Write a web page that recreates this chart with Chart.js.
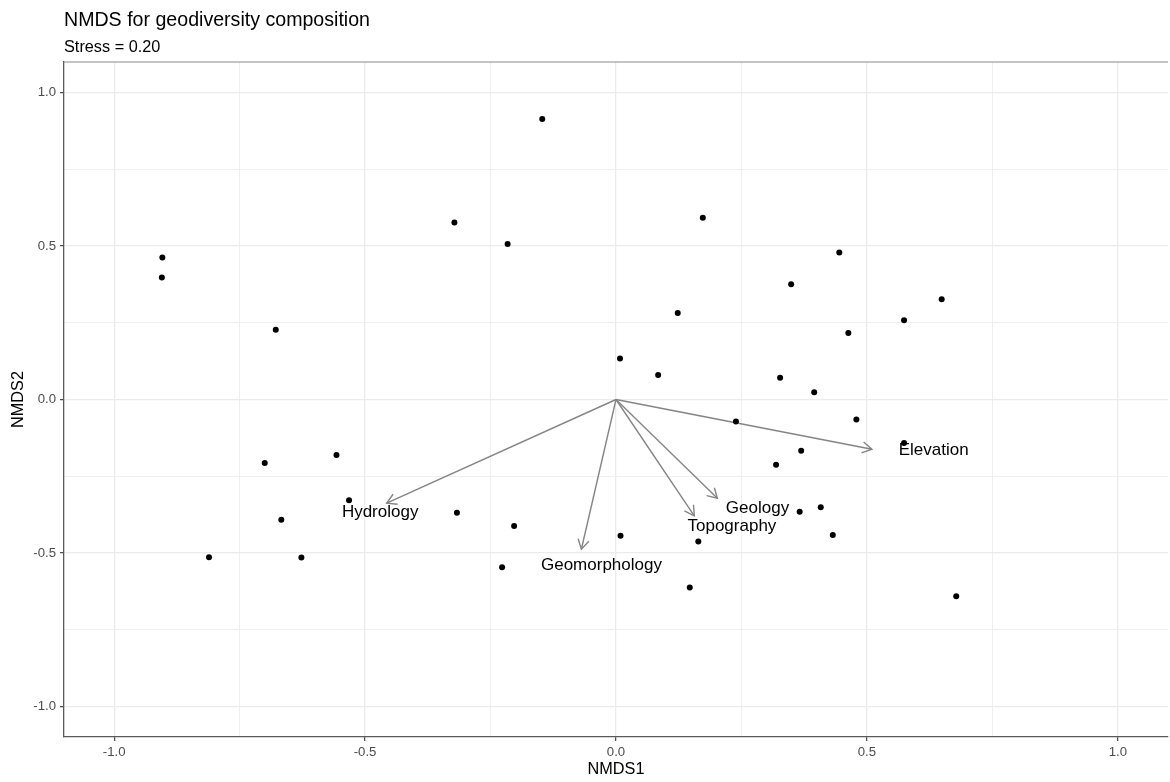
<!DOCTYPE html>
<html>
<head>
<meta charset="utf-8">
<title>NMDS for geodiversity composition</title>
<script src="https://cdn.jsdelivr.net/npm/chart.js@4/dist/chart.umd.min.js"></script>
<style>
  html, body { margin: 0; padding: 0; background: #ffffff; overflow: hidden; }
  canvas { display: block; }
</style>
</head>
<body>
<canvas id="nmds" width="1172" height="782"></canvas>
<script>
// Site scores on the first two NMDS axes
const siteX = [-0.904, -0.905, -0.678, -0.700, -0.557, -0.532, -0.667, -0.811, -0.627,
               -0.147, -0.322, -0.216, 0.173, 0.123, 0.008, 0.084,
               -0.317, -0.203, 0.009, 0.164, -0.227, 0.147,
               0.445, 0.349, 0.649, 0.574, 0.463, 0.327, 0.395, 0.239, 0.479,
               0.574, 0.369, 0.319, 0.408, 0.366, 0.432, 0.678];
const siteY = [0.463, 0.398, 0.227, -0.207, -0.181, -0.328, -0.392, -0.514, -0.515,
               0.914, 0.577, 0.507, 0.592, 0.282, 0.134, 0.080,
               -0.369, -0.412, -0.444, -0.463, -0.547, -0.613,
               0.479, 0.376, 0.327, 0.258, 0.217, 0.071, 0.024, -0.072, -0.065,
               -0.142, -0.167, -0.213, -0.351, -0.366, -0.442, -0.641];

// Fitted environmental vectors (arrow tips) and their label positions
const vectorNames = ['Hydrology', 'Geomorphology', 'Topography', 'Geology', 'Elevation'];
const vectorX = [-0.457, -0.069, 0.156, 0.202, 0.510];
const vectorY = [-0.338, -0.488, -0.379, -0.322, -0.162];
const labelX = [-0.470, -0.029, 0.231, 0.282, 0.633];
const labelY = [-0.369, -0.541, -0.414, -0.354, -0.167];

// Axis ticks
const majorTicks = [-1, -0.5, 0, 0.5, 1];
const minorTicks = [-0.75, -0.25, 0.25, 0.75];
const axisMin = -1.1;
const axisMax = 1.1;

const titleText = 'NMDS for geodiversity composition';
const subtitleText = 'Stress = 0.20';
const xTitle = 'NMDS1';
const yTitle = 'NMDS2';

const FONT = '"Liberation Sans", Arial, Helvetica, sans-serif';
const allTicks = majorTicks.concat(minorTicks).sort((a, b) => a - b);
const isMajor = v => majorTicks.some(m => Math.abs(m - v) < 1e-9);

function axisOptions(title, isX) {
  return {
    type: 'linear',
    position: isX ? 'bottom' : 'left',
    min: axisMin,
    max: axisMax,
    bounds: 'data',
    afterBuildTicks: scale => { scale.ticks = allTicks.map(v => ({ value: v })); },
    afterFit: scale => {
      if (isX) { scale.height = 45; } else { scale.width = 64; }
    },
    grid: {
      drawTicks: true,
      tickLength: 4,
      color: c => (c.tick && isMajor(c.tick.value)) ? '#EBEBEB' : '#EFEFEF',
      lineWidth: c => (c.tick && isMajor(c.tick.value)) ? 1.3 : 1,
      tickColor: c => (c.tick && isMajor(c.tick.value)) ? '#444444' : 'rgba(0,0,0,0)',
      tickWidth: 1.2
    },
    border: { display: true, color: '#5a5a5a', width: 1.3 },
    ticks: {
      autoSkip: false,
      maxRotation: 0,
      padding: isX ? 3 : 4,
      color: '#4D4D4D',
      font: { family: FONT, size: 13.2 },
      callback: v => isMajor(v) ? v.toFixed(1) : ''
    },
    title: {
      display: true,
      text: title,
      color: '#000000',
      font: { family: FONT, size: 16.3 },
      padding: isX ? { top: 0, bottom: 3 } : { top: 9, bottom: 0 }
    }
  };
}

// Open arrowheads at the tip of every vector line
const arrowHeads = {
  id: 'arrowHeads',
  afterDatasetsDraw(chart) {
    const ctx = chart.ctx;
    chart.data.datasets.forEach((ds, i) => {
      if (!ds.isVector) return;
      const pts = chart.getDatasetMeta(i).data;
      const a = pts[0], b = pts[1];
      const ang = Math.atan2(b.y - a.y, b.x - a.x);
      const len = 11, spread = Math.PI / 6;
      ctx.save();
      ctx.strokeStyle = ds.borderColor;
      ctx.lineWidth = ds.borderWidth;
      ctx.lineJoin = 'miter';
      ctx.beginPath();
      ctx.moveTo(b.x - len * Math.cos(ang - spread), b.y - len * Math.sin(ang - spread));
      ctx.lineTo(b.x, b.y);
      ctx.lineTo(b.x - len * Math.cos(ang + spread), b.y - len * Math.sin(ang + spread));
      ctx.stroke();
      ctx.restore();
    });
  }
};

// Vector names placed through the chart's own scales
const vectorLabels = {
  id: 'vectorLabels',
  afterDatasetsDraw(chart) {
    const ctx = chart.ctx;
    const xs = chart.scales.x, ys = chart.scales.y;
    ctx.save();
    ctx.fillStyle = '#000000';
    ctx.font = '17px ' + FONT;
    ctx.textAlign = 'center';
    ctx.textBaseline = 'middle';
    vectorNames.forEach((name, i) => {
      ctx.fillText(name, xs.getPixelForValue(labelX[i]), ys.getPixelForValue(labelY[i]));
    });
    ctx.restore();
  }
};

// Panel top edge plus plot title and subtitle
const frameAndTitles = {
  id: 'frameAndTitles',
  afterDraw(chart) {
    const ctx = chart.ctx;
    const area = chart.chartArea;
    ctx.save();
    ctx.strokeStyle = '#8a8a8a';
    ctx.lineWidth = 1.2;
    ctx.beginPath();
    ctx.moveTo(area.left, area.top);
    ctx.lineTo(area.right, area.top);
    ctx.stroke();

    ctx.fillStyle = '#000000';
    ctx.textAlign = 'left';
    ctx.textBaseline = 'alphabetic';
    ctx.font = '19.6px ' + FONT;
    ctx.fillText(titleText, area.left, 26);
    ctx.font = '16.3px ' + FONT;
    ctx.fillText(subtitleText, area.left, 51.5);
    ctx.restore();
  }
};

const vectorDatasets = vectorNames.map((name, i) => ({
  label: name,
  isVector: true,
  showLine: true,
  data: [{ x: 0, y: 0 }, { x: vectorX[i], y: vectorY[i] }],
  borderColor: '#858585',
  borderWidth: 1.4,
  pointRadius: 0,
  fill: false,
  order: 1
}));

new Chart(document.getElementById('nmds'), {
  type: 'scatter',
  data: {
    datasets: [
      {
        label: 'Sites',
        data: siteX.map((x, i) => ({ x: x, y: siteY[i] })),
        backgroundColor: '#000000',
        borderColor: '#000000',
        borderWidth: 0,
        pointRadius: 3,
        order: 0
      }
    ].concat(vectorDatasets)
  },
  options: {
    responsive: false,
    devicePixelRatio: 1,
    animation: false,
    events: [],
    layout: { padding: { top: 62, left: 0, right: 0, bottom: 0 } },
    plugins: {
      legend: { display: false },
      title: { display: false },
      tooltip: { enabled: false }
    },
    scales: {
      x: axisOptions(xTitle, true),
      y: axisOptions(yTitle, false)
    }
  },
  plugins: [arrowHeads, vectorLabels, frameAndTitles]
});
</script>
</body>
</html>
